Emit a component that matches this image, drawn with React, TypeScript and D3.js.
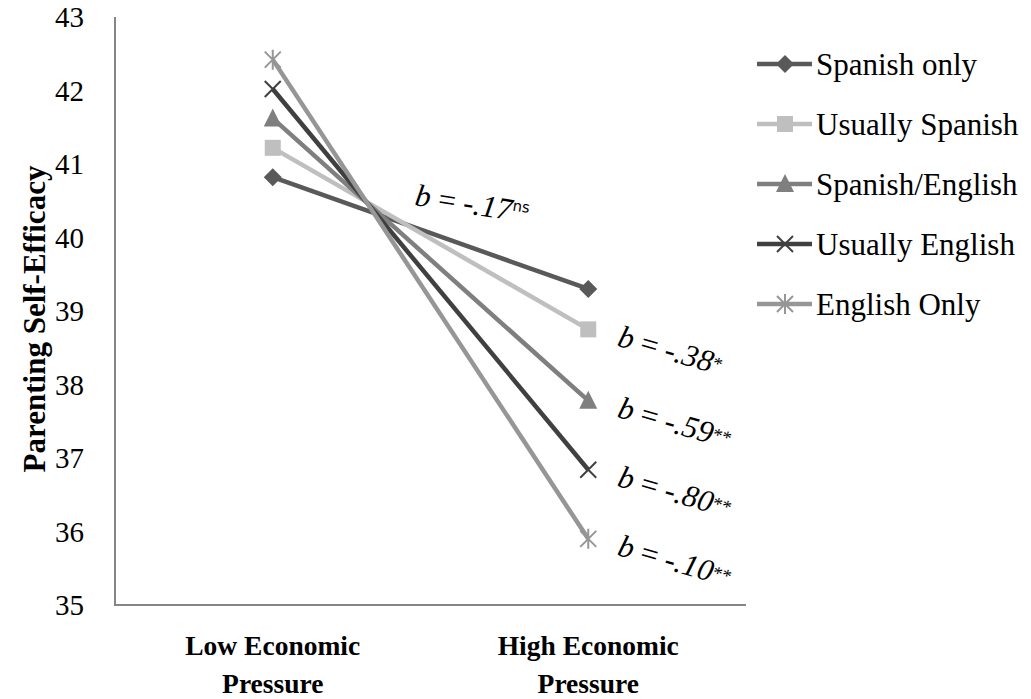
import React, { useRef, useEffect } from 'react';
import * as d3 from 'd3';

const categories = ['Low Economic|Pressure', 'High Economic|Pressure'];
const seriesNames = ['Spanish only', 'Usually Spanish', 'Spanish/English', 'Usually English', 'English Only'];
const lowValues = [40.82, 41.22, 41.62, 42.02, 42.42];
const highValues = [39.3, 38.75, 37.78, 36.84, 35.9];
const seriesColors = ['#595959', '#bfbfbf', '#7f7f7f', '#404040', '#969696'];
const markerShapes = ['diamond', 'square', 'triangle', 'x', 'star'];
const yTicks = [35, 36, 37, 38, 39, 40, 41, 42, 43];

// slope annotations: value / significance
const slopeValues = ['-.17', '-.38', '-.59', '-.80', '-.10'];
const slopeSig = ['ns', '*', '**', '**', '**'];

const W = 1031;
const H = 699;
const SERIF = '"Liberation Serif", "Times New Roman", serif';

function drawMarker(g: d3.Selection<SVGGElement, unknown, null, undefined>, shape: string, color: string) {
  if (shape === 'diamond') {
    g.append('path').attr('d', 'M0,-9L9,0L0,9L-9,0Z').attr('fill', color);
  } else if (shape === 'square') {
    g.append('rect').attr('x', -8).attr('y', -8).attr('width', 16).attr('height', 16).attr('fill', color);
  } else if (shape === 'triangle') {
    g.append('path').attr('d', 'M0,-10L9,8L-9,8Z').attr('fill', color);
  } else if (shape === 'x') {
    g.append('path').attr('d', 'M-8,-8L8,8M-8,8L8,-8').attr('stroke', color).attr('stroke-width', 2).attr('fill', 'none');
  } else {
    g.append('path')
      .attr('d', 'M-8,-8L8,8M-8,8L8,-8M0,-10L0,10')
      .attr('stroke', color).attr('stroke-width', 2).attr('fill', 'none');
  }
}

export default function App() {
  const svgRef = useRef<SVGSVGElement>(null);

  useEffect(() => {
    if (!svgRef.current) return;
    const svg = d3.select(svgRef.current);
    svg.selectAll('*').remove();

    const left = 115;
    const right = 746;
    const top = 17;
    const bottom = 605;

    const x = d3.scaleBand().domain(categories).range([left, right]);
    const y = d3.scaleLinear().domain([35, 43]).range([bottom, top]);
    const cx = (c: string) => (x(c) as number) + x.bandwidth() / 2;

    // axes
    svg.append('line').attr('x1', left).attr('x2', left).attr('y1', top).attr('y2', bottom)
      .attr('stroke', '#868686').attr('stroke-width', 2);
    svg.append('line').attr('x1', left - 1).attr('x2', right).attr('y1', bottom).attr('y2', bottom)
      .attr('stroke', '#868686').attr('stroke-width', 2);

    svg.append('g').selectAll('text').data(yTicks).join('text')
      .attr('x', 84).attr('y', (d) => y(d)).attr('dy', '0.35em')
      .attr('text-anchor', 'end')
      .style('font-family', SERIF)
      .style('font-size', '29px').attr('fill', '#000')
      .text((d) => d);

    svg.append('text')
      .attr('transform', `translate(45,${(top + bottom) / 2 + 8}) rotate(-90)`)
      .attr('text-anchor', 'middle')
      .style('font-family', SERIF)
      .style('font-weight', 'bold').style('font-size', '31px')
      .text('Parenting Self-Efficacy');

    categories.forEach((c) => {
      const lines = c.split('|');
      const t = svg.append('text')
        .attr('x', cx(c)).attr('y', 655)
        .attr('text-anchor', 'middle')
        .style('font-family', SERIF)
        .style('font-weight', 'bold').style('font-size', '27.5px');
      lines.forEach((l, i) => {
        t.append('tspan').attr('x', cx(c)).attr('dy', i === 0 ? 0 : 38).text(l);
      });
    });

    // series
    seriesNames.forEach((name, i) => {
      const pts: [number, number][] = [
        [cx(categories[0]), y(lowValues[i])],
        [cx(categories[1]), y(highValues[i])],
      ];
      svg.append('path')
        .attr('d', d3.line()(pts) as string)
        .attr('fill', 'none').attr('stroke', seriesColors[i]).attr('stroke-width', 4.5);
      pts.forEach((p) => {
        const g = svg.append('g').attr('transform', `translate(${p[0]},${p[1]})`);
        drawMarker(g, markerShapes[i], seriesColors[i]);
      });
    });

    // slope annotations
    const addAnno = (ax: number, ay: number, angle: number, val: string, sig: string) => {
      const t = svg.append('text')
        .attr('transform', `translate(${ax},${ay}) rotate(${angle})`)
        .style('font-family', SERIF).style('font-size', '31px').attr('fill', '#000');
      t.append('tspan').style('font-style', 'italic').text('b');
      t.append('tspan').text(' = ');
      t.append('tspan').style('font-style', 'italic').text(val);
      if (sig === 'ns') {
        t.append('tspan').style('font-family', '"DejaVu Sans", sans-serif').style('font-size', '15px')
          .attr('dy', -10).text(sig);
      } else {
        t.append('tspan').style('font-size', '19px').attr('dy', -4).text(sig);
      }
    };
    addAnno(414, 205, 9, slopeValues[0], slopeSig[0]);
    const rightX = cx(categories[1]) + 28;
    [1, 2, 3, 4].forEach((i) => {
      addAnno(rightX, y(highValues[i]) + 16, 16, slopeValues[i], slopeSig[i]);
    });

    // legend
    const lg = svg.append('g');
    seriesNames.forEach((name, i) => {
      const ly = 64 + i * 60;
      lg.append('line').attr('x1', 757).attr('x2', 812).attr('y1', ly).attr('y2', ly)
        .attr('stroke', seriesColors[i]).attr('stroke-width', 4.5);
      const g = lg.append('g').attr('transform', `translate(785,${ly})`);
      drawMarker(g, markerShapes[i], seriesColors[i]);
      lg.append('text').attr('x', 816).attr('y', ly).attr('dy', '0.35em')
        .style('font-family', SERIF).style('font-size', '31px').text(name);
    });
  }, []);

  return (
    <svg ref={svgRef} width={W} height={H}
      style={{ position: 'absolute', top: 0, left: 0, background: '#fff' }} />
  );
}
